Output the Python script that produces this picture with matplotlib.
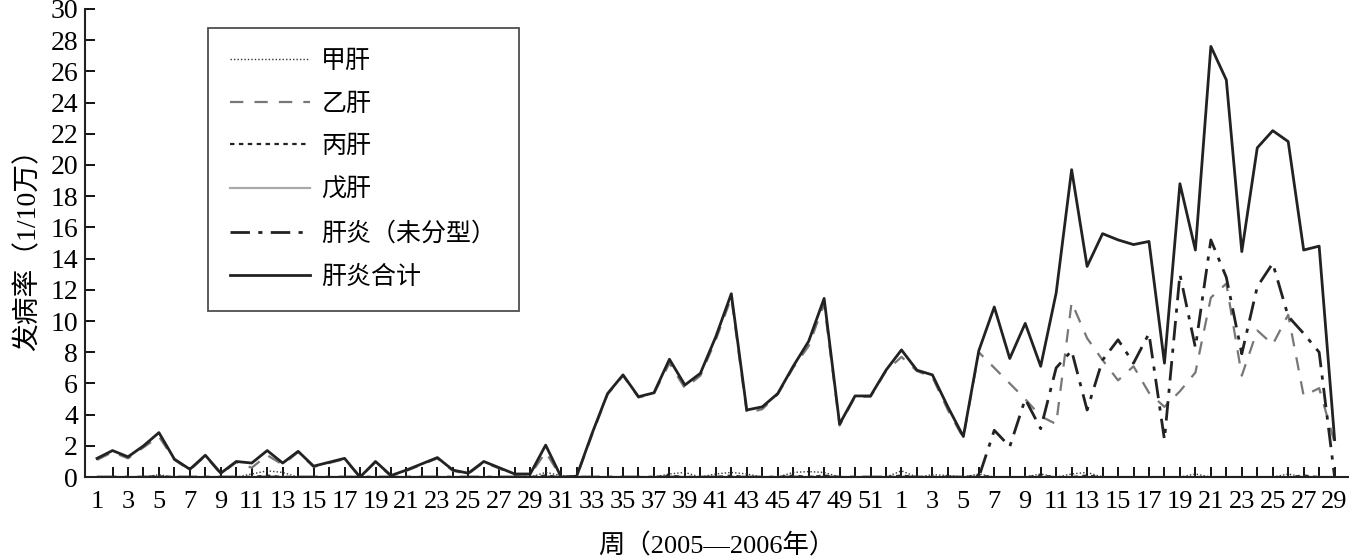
import matplotlib
matplotlib.use("Agg")
import matplotlib.pyplot as plt
import numpy as np

# ---- data ----
weeks_2005 = list(range(1, 53))
weeks_2006 = list(range(1, 30))
tick_labels = [str(w) for w in weeks_2005] + [str(w) for w in weeks_2006]

series_names = ["甲肝", "乙肝", "丙肝", "戊肝", "肝炎（未分型）", "肝炎合计"]

total = [1.2, 1.7, 1.3, 2.0, 2.85, 1.15, 0.5, 1.4, 0.25, 1.0,
         0.9, 1.7, 0.9, 1.65, 0.7, 0.95, 1.2, 0.0, 1.0, 0.1,
         0.45, 0.85, 1.25, 0.45, 0.25, 1.0, 0.6, 0.2, 0.2, 2.05,
         0.0, 0.05, 2.8, 5.35, 6.55, 5.15, 5.4, 7.55, 5.9, 6.65,
         9.0, 11.75, 4.3, 4.5, 5.35, 7.1, 8.7, 11.45, 3.4, 5.2,
         5.2, 6.85,
         8.15, 6.85, 6.55, 4.5, 2.6, 8.1, 10.9, 7.6, 9.85, 7.1,
         11.8, 19.7, 13.5, 15.6, 15.2, 14.9, 15.1, 7.3, 18.8, 14.55,
         27.6, 25.45, 14.45, 21.1, 22.2, 21.5, 14.55, 14.8, 2.4]

hep_b = [1.1, 1.6, 1.2, 1.9, 2.6, 1.1, 0.45, 1.35, 0.2, 0.95,
         0.6, 1.4, 0.8, 1.6, 0.65, 0.9, 1.15, 0.0, 0.95, 0.05,
         0.4, 0.8, 1.2, 0.4, 0.2, 0.95, 0.55, 0.15, 0.15, 1.6,
         0.0, 0.0, 2.7, 5.3, 6.5, 5.1, 5.35, 7.3, 5.7, 6.5,
         8.8, 11.5, 4.1, 4.35, 5.3, 7.0, 8.4, 11.1, 3.3, 5.15,
         5.15, 6.8,
         7.7, 6.8, 6.4, 4.3, 2.5, 8.0, 7.0, 6.0, 5.0, 3.9,
         3.4, 11.2, 8.9, 7.5, 6.2, 7.1, 5.4, 4.5, 5.5, 6.7,
         11.5, 12.4, 6.5, 9.4, 8.5, 10.4, 5.2, 5.7, 2.2]

unclassified = [0.0] * 52 + [
         0.0, 0.0, 0.0, 0.0, 0.0, 0.0, 3.0, 1.95, 5.0, 3.1,
         7.0, 8.1, 4.3, 7.5, 8.8, 7.3, 9.2, 2.4, 13.0, 8.3,
         15.2, 12.8, 7.9, 12.2, 13.7, 10.3, 9.2, 8.0, 0.0]

hep_a = [0, 0, 0, 0, 0.15, 0, 0, 0, 0, 0,
         0.2, 0.4, 0.3, 0, 0, 0, 0, 0, 0, 0,
         0, 0, 0, 0, 0, 0, 0, 0, 0, 0.3,
         0.1, 0, 0, 0, 0, 0, 0, 0.2, 0.3, 0,
         0.2, 0.3, 0.2, 0, 0, 0.3, 0.35, 0.3, 0, 0,
         0, 0,
         0.4, 0, 0.15, 0.1, 0, 0.2, 0, 0, 0, 0.2,
         0, 0.2, 0.3, 0, 0, 0, 0, 0, 0, 0.2,
         0, 0, 0, 0, 0, 0.2, 0, 0, 0]

hep_c = [0, 0, 0, 0, 0.05, 0, 0, 0, 0, 0,
         0, 0.1, 0, 0, 0, 0, 0, 0, 0, 0,
         0, 0, 0, 0, 0, 0, 0, 0, 0, 0.1,
         0, 0, 0, 0, 0, 0, 0, 0.1, 0, 0,
         0, 0.1, 0, 0, 0, 0.1, 0, 0.1, 0, 0,
         0, 0,
         0.1, 0, 0, 0, 0, 0.1, 0, 0, 0, 0.1,
         0, 0, 0.1, 0, 0, 0, 0, 0, 0, 0,
         0, 0, 0, 0, 0, 0, 0.1, 0, 0]

hep_e = [0.0] * 81

# ---- plot ----
plt.rcParams['font.family'] = ['Liberation Serif', 'Noto Sans CJK SC', 'DejaVu Sans']

fig = plt.figure(figsize=(13.49, 5.58), dpi=100)
ax = fig.add_axes([0.063, 0.145, 0.937, 0.839])

x = np.arange(len(tick_labels))

ax.plot(x, hep_a, color='#333333', lw=1.0, linestyle=(0, (1, 1.5)), label=series_names[0])
ax.plot(x, hep_b, color='#777777', lw=1.6, linestyle=(0, (6, 5)), label=series_names[1])
ax.plot(x, hep_c, color='#222222', lw=1.6, linestyle=(0, (2, 2)), label=series_names[2])
ax.plot(x, hep_e, color='#aaaaaa', lw=1.6, linestyle='-', label=series_names[3])
ax.plot(x, unclassified, color='#222222', lw=2.0, linestyle=(0, (7, 3, 1.5, 3)), label=series_names[4])
ax.plot(x, total, color='#222222', lw=2.0, linestyle='-', label=series_names[5])

ax.set_ylim(0, 30)
ax.set_xlim(-0.78, 80.93)
ax.set_yticks(np.arange(0, 31, 2))
ax.set_xticks(x)
ax.set_xticklabels([tick_labels[i] if i % 2 == 0 else '' for i in x])

ax.tick_params(axis='x', direction='in', length=7.5, width=1.3, labelsize=19, pad=10)
ax.tick_params(axis='y', direction='in', length=7.5, width=1.3, labelsize=20, pad=5)
ax.xaxis.get_major_ticks()[0].tick1line.set_visible(False)

for s in ['top', 'right']:
    ax.spines[s].set_visible(False)
for s in ['left', 'bottom']:
    ax.spines[s].set_linewidth(1.5)
    ax.spines[s].set_color('#222222')

ax.set_ylabel('发病率（1/10万）', fontsize=20, labelpad=6)
ax.set_xlabel('周（2005—2006年）', fontsize=19, labelpad=15)

leg = ax.legend(loc='upper left', bbox_to_anchor=(0.097, 0.959), fontsize=18,
                frameon=True, fancybox=False, edgecolor='#222222',
                handlelength=3.2, labelspacing=0.8, handletextpad=0.45,
                borderpad=0.9, borderaxespad=0)
leg.get_frame().set_linewidth(1.3)

fig.savefig('out.png', dpi=100)
